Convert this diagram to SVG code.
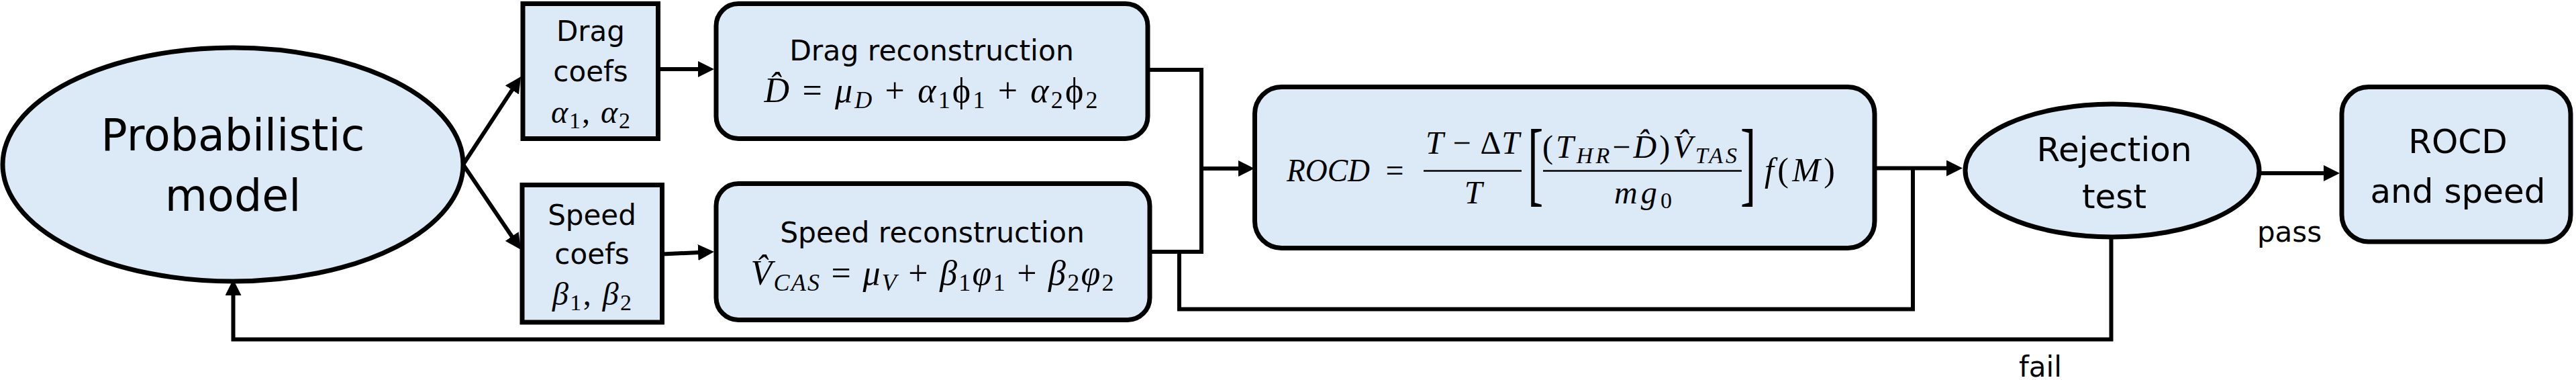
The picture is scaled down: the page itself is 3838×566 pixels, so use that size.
<svg xmlns="http://www.w3.org/2000/svg" width="3838" height="566" viewBox="0 0 3838 566">
<style>
.node{fill:#DCEAF7;stroke:#000;stroke-width:7}
.lbl{font-family:"DejaVu Sans",sans-serif;fill:#000;text-anchor:middle}
.m{font-family:"Liberation Serif","DejaVu Serif",serif;fill:#000}
.i{font-style:italic}
.conn{fill:none;stroke:#000;stroke-width:6;stroke-linejoin:miter}
.bar{stroke:#000;stroke-width:2.7}
</style>
<defs>
<marker id="ah" markerUnits="userSpaceOnUse" markerWidth="24" markerHeight="24" refX="12" refY="12" orient="auto"><path d="M0,0 L24,12 L0,24 z" fill="#000"/></marker>
</defs>
<rect width="3838" height="566" fill="#fff"/>
<g id="connectors">
<path class="conn" d="M690,245 L769.5,124" marker-end="url(#ah)"/>
<path class="conn" d="M690,245 L769.4,362" marker-end="url(#ah)"/>
<path class="conn" d="M981,103 L1052,103" marker-end="url(#ah)"/>
<path class="conn" d="M987,378.5 L1052,375.5" marker-end="url(#ah)"/>
<path class="conn" d="M1710,104 H1790 V375 H1713"/>
<path class="conn" d="M1790,251 H1857" marker-end="url(#ah)"/>
<path class="conn" d="M1757,375 V460.5 H2850 V250.5"/>
<path class="conn" d="M2793,250.5 H2912" marker-end="url(#ah)"/>
<path class="conn" d="M3366,258 H3474" marker-end="url(#ah)"/>
<path class="conn" d="M3145.5,353 V505.5 H347.5 V428" marker-end="url(#ah)"/>
<text class="lbl" x="3411" y="360" font-size="42">pass</text>
<text class="lbl" x="3040" y="561" font-size="42">fail</text>
</g>
<g id="probabilistic-model">
<ellipse class="node" cx="347" cy="245" rx="343" ry="174"/>
<text class="lbl" x="347" y="224" font-size="65">Probabilistic</text>
<text class="lbl" x="347" y="314" font-size="65">model</text>
</g>
<g id="drag-coefs">
<rect class="node" x="779" y="5.5" width="201.5" height="201"/>
<text class="lbl" x="880" y="61" font-size="42">Drag</text>
<text class="lbl" x="880" y="121" font-size="42">coefs</text>
<text class="m" x="880" y="183" font-size="48" text-anchor="middle" textLength="118" lengthAdjust="spacing"><tspan class="i">α</tspan><tspan font-size="34" dy="8">1</tspan><tspan dy="-8">, </tspan><tspan class="i">α</tspan><tspan font-size="34" dy="8">2</tspan></text>
</g>
<g id="speed-coefs">
<rect class="node" x="778" y="275.5" width="208.5" height="204.5"/>
<text class="lbl" x="882" y="335" font-size="42">Speed</text>
<text class="lbl" x="882" y="393" font-size="42">coefs</text>
<text class="m" x="882" y="454" font-size="48" text-anchor="middle" textLength="118" lengthAdjust="spacing"><tspan class="i">β</tspan><tspan font-size="34" dy="8">1</tspan><tspan dy="-8">, </tspan><tspan class="i">β</tspan><tspan font-size="34" dy="8">2</tspan></text>
</g>
<g id="drag-reconstruction">
<rect class="node" x="1067" y="5.5" width="643" height="201" rx="33"/>
<text class="lbl" x="1388" y="90" font-size="42.5">Drag reconstruction</text>
<text class="m" x="1387" y="152" font-size="52" text-anchor="middle" textLength="497" lengthAdjust="spacing"><tspan class="i">D&#x302;</tspan> = <tspan class="i">μ</tspan><tspan class="i" font-size="36" dy="9">D</tspan><tspan dy="-9"> + </tspan><tspan class="i">α</tspan><tspan font-size="36" dy="9">1</tspan><tspan dy="-9">ϕ</tspan><tspan font-size="36" dy="9">1</tspan><tspan dy="-9"> + </tspan><tspan class="i">α</tspan><tspan font-size="36" dy="9">2</tspan><tspan dy="-9">ϕ</tspan><tspan font-size="36" dy="9">2</tspan></text>
</g>
<g id="speed-reconstruction">
<rect class="node" x="1067" y="273.5" width="646" height="203" rx="33"/>
<text class="lbl" x="1389" y="361" font-size="42.5">Speed reconstruction</text>
<text class="m" x="1389" y="424" font-size="52" text-anchor="middle" textLength="541" lengthAdjust="spacing"><tspan class="i">V&#x302;</tspan><tspan class="i" font-size="36" dy="9">CAS</tspan><tspan dy="-9"> = </tspan><tspan class="i">μ</tspan><tspan class="i" font-size="36" dy="9">V</tspan><tspan dy="-9"> + </tspan><tspan class="i">β</tspan><tspan font-size="36" dy="9">1</tspan><tspan class="i" dy="-9">φ</tspan><tspan font-size="36" dy="9">1</tspan><tspan dy="-9"> + </tspan><tspan class="i">β</tspan><tspan font-size="36" dy="9">2</tspan><tspan class="i" dy="-9">φ</tspan><tspan font-size="36" dy="9">2</tspan></text>
</g>
<g id="rocd-equation">
<rect class="node" x="1869.5" y="129.5" width="923.5" height="240" rx="40"/>
<text class="m i" x="1917" y="270" font-size="48" textLength="124" lengthAdjust="spacingAndGlyphs">ROCD</text>
<text class="m" x="2078" y="270" font-size="48" text-anchor="middle">=</text>
<line class="bar" x1="2121" y1="254.5" x2="2267" y2="254.5"/>
<text class="m" x="2194" y="229" font-size="48" text-anchor="middle" textLength="140" lengthAdjust="spacing"><tspan class="i">T</tspan> − Δ<tspan class="i">T</tspan></text>
<text class="m i" x="2195" y="303" font-size="48" text-anchor="middle">T</text>
<text class="m" transform="translate(2276,289) scale(1.4,2.8)" font-size="50">[</text>
<line class="bar" x1="2299" y1="254.5" x2="2595" y2="254.5"/>
<text class="m" x="2443" y="235" font-size="48" text-anchor="middle" textLength="290" lengthAdjust="spacing">(<tspan class="i">T</tspan><tspan class="i" font-size="34" dy="8">HR</tspan><tspan dy="-8">−</tspan><tspan class="i">D&#x302;</tspan>)<tspan class="i">V&#x302;</tspan><tspan class="i" font-size="34" dy="8">TAS</tspan></text>
<text class="m" x="2448" y="303" font-size="48" text-anchor="middle" textLength="86" lengthAdjust="spacing"><tspan class="i">mg</tspan><tspan font-size="34" dy="7">0</tspan></text>
<text class="m" transform="translate(2593,289) scale(1.4,2.8)" font-size="50">]</text>
<text class="m" x="2629" y="270" font-size="50" textLength="105" lengthAdjust="spacing"><tspan class="i">f</tspan>(<tspan class="i">M</tspan>)</text>
</g>
<g id="rejection-test">
<ellipse class="node" cx="3147" cy="254" rx="219" ry="99"/>
<text class="lbl" x="3150" y="240" font-size="50">Rejection</text>
<text class="lbl" x="3150" y="310" font-size="50">test</text>
</g>
<g id="rocd-and-speed">
<rect class="node" x="3489" y="129.5" width="341" height="230.5" rx="40"/>
<text class="lbl" x="3662" y="228" font-size="50">ROCD</text>
<text class="lbl" x="3662" y="302" font-size="50">and speed</text>
</g>
</svg>
